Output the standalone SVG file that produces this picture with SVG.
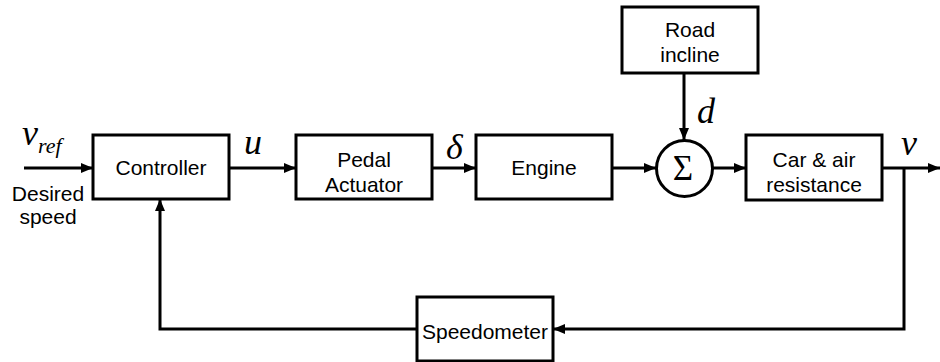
<svg xmlns="http://www.w3.org/2000/svg" width="940" height="362" viewBox="0 0 940 362">
<style>
.box{fill:#fff;stroke:#000;stroke-width:3}
.lbl{font-family:"Liberation Sans",Arial,sans-serif;font-size:21px;fill:#000;text-anchor:middle}
.math{font-family:"Liberation Serif","Times New Roman",serif;font-style:italic;fill:#000}
.wire{fill:none;stroke:#000;stroke-width:3}
</style>
<defs>
<marker id="arr" markerWidth="12" markerHeight="10" refX="12" refY="5" orient="auto" markerUnits="userSpaceOnUse">
<path d="M0,0 L12,5 L0,10 Z" fill="#000"/>
</marker>
</defs>
<g id="connectors">
<line class="wire" x1="24" y1="168" x2="93" y2="168" marker-end="url(#arr)"/>
<line class="wire" x1="229" y1="168" x2="296" y2="168" marker-end="url(#arr)"/>
<line class="wire" x1="432" y1="168" x2="476" y2="168" marker-end="url(#arr)"/>
<line class="wire" x1="612" y1="168" x2="656" y2="168" marker-end="url(#arr)"/>
<line class="wire" x1="713" y1="168" x2="746" y2="168" marker-end="url(#arr)"/>
<line class="wire" x1="684" y1="73" x2="684" y2="140" marker-end="url(#arr)"/>
<line class="wire" x1="882" y1="168" x2="940" y2="168" marker-end="url(#arr)"/>
<polyline class="wire" points="904,168 904,329 553,329" marker-end="url(#arr)"/>
<polyline class="wire" points="417,329 160,329 160,199" marker-end="url(#arr)"/>
</g>
<g id="controller">
<rect class="box" x="93" y="135" width="136" height="64"/>
<text class="lbl" x="161" y="174.5">Controller</text>
</g>
<g id="pedal">
<rect class="box" x="296" y="135" width="136" height="64"/>
<text class="lbl" x="364" y="166.5">Pedal</text>
<text class="lbl" x="364" y="191.5">Actuator</text>
</g>
<g id="engine">
<rect class="box" x="476" y="135" width="136" height="64"/>
<text class="lbl" x="544" y="175">Engine</text>
</g>
<g id="sum">
<circle cx="684.5" cy="168.5" r="28" fill="#fff" stroke="#000" stroke-width="3"/>
<text x="683" y="180" font-family="Liberation Serif,'Times New Roman',serif" font-size="35" text-anchor="middle">Σ</text>
</g>
<g id="road">
<rect class="box" x="622" y="7" width="136" height="66"/>
<text class="lbl" x="690" y="36.5">Road</text>
<text class="lbl" x="690" y="61.5">incline</text>
</g>
<g id="car">
<rect class="box" x="746" y="135" width="136" height="65"/>
<text class="lbl" x="814" y="166.5">Car &amp; air</text>
<text class="lbl" x="814" y="191.5">resistance</text>
</g>
<g id="speedometer">
<rect class="box" x="417" y="297" width="136" height="64"/>
<text class="lbl" x="485" y="339">Speedometer</text>
</g>
<g id="labels">
<text class="math" x="22" y="145" font-size="36">v<tspan font-size="22" dy="8">ref</tspan></text>
<text class="lbl" x="48" y="201">Desired</text>
<text class="lbl" x="48" y="224">speed</text>
<text class="math" x="244" y="154" font-size="36">u</text>
<text class="math" x="446" y="159" font-size="36">δ</text>
<text class="math" x="697" y="123" font-size="36">d</text>
<text class="math" x="901" y="155" font-size="36">v</text>
</g>
</svg>
